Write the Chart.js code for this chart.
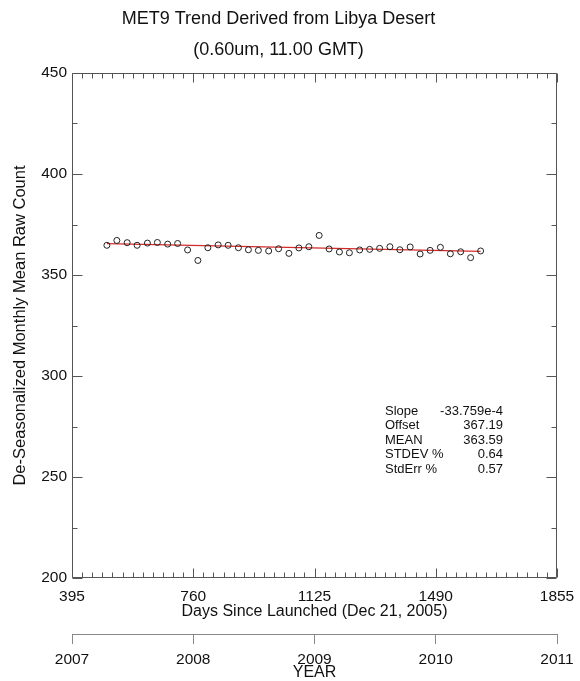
<!DOCTYPE html>
<html><head><meta charset="utf-8">
<script src="https://cdn.jsdelivr.net/npm/chart.js@4"></script>
<style>html,body{margin:0;padding:0;background:#fff}</style>
</head><body>
<canvas id="c" width="580" height="681"></canvas>
<script>
const days = [500, 530, 561, 591, 622, 652, 683, 713, 743, 774, 804, 835, 865, 896, 926, 956, 987, 1017, 1048, 1078, 1108, 1139, 1169, 1200, 1230, 1261, 1291, 1321, 1352, 1382, 1413, 1443, 1473, 1504, 1534, 1565, 1595, 1625];
const counts = [364.7, 367.1, 366.0, 364.7, 365.8, 366.1, 365.3, 365.6, 362.4, 357.2, 363.5, 364.9, 364.7, 363.5, 362.5, 362.2, 361.9, 363.0, 360.7, 363.4, 364.0, 369.6, 362.9, 361.4, 361.0, 362.4, 362.7, 363.2, 364.0, 362.5, 363.9, 360.4, 362.2, 363.7, 360.5, 361.5, 358.6, 361.9];
const trendDays = [500, 1625];
const trendCounts = [365.5, 361.7];
const dayTicks = [395, 760, 1125, 1490, 1855];
const yearLabels = ['2007', '2008', '2009', '2010', '2011'];
const yTicks = [200, 250, 300, 350, 400, 450];
const statNames = ['Slope', 'Offset', 'MEAN', 'STDEV %', 'StdErr %'];
const statValues = ['-33.759e-4', '367.19', '363.59', '0.64', '0.57'];

const FONT = '"Liberation Sans", Arial, Helvetica, sans-serif';
const AXIS = '#555';
const TXT = '#111';

// minor (monthly) ticks between each major day tick, minor y ticks halfway
const xTickVals = [];
for (let i = 0; i < dayTicks.length - 1; i++) {
  for (let k = 0; k < 12; k++) xTickVals.push(dayTicks[i] + (dayTicks[i + 1] - dayTicks[i]) * k / 12);
}
xTickVals.push(dayTicks[dayTicks.length - 1]);
const yTickVals = [];
for (let i = 0; i < yTicks.length - 1; i++) { yTickVals.push(yTicks[i], (yTicks[i] + yTicks[i + 1]) / 2); }
yTickVals.push(yTicks[yTicks.length - 1]);

function noPad(s) { s.paddingLeft = 0; s.paddingRight = 0; s.paddingTop = 0; s.paddingBottom = 0; }

const framePlugin = {
  id: 'frame',
  beforeDatasetsDraw(chart) {
    const {ctx, chartArea: a, scales: {x, y}} = chart;
    ctx.save();
    ctx.strokeStyle = AXIS; ctx.lineWidth = 1;
    const L = Math.round(a.left) + 0.5, R = Math.round(a.right) - 0.5;
    const T = Math.round(a.top) + 0.5, B = Math.round(a.bottom) - 0.5;
    ctx.beginPath();
    ctx.rect(L, T, R - L, B - T);
    x.ticks.forEach((t, i) => {
      const px = Math.round(x.getPixelForValue(t.value)) + 0.5;
      const len = i % 12 === 0 ? 9 : 5;
      ctx.moveTo(px, B); ctx.lineTo(px, B - len);
      ctx.moveTo(px, T); ctx.lineTo(px, T + len);
    });
    y.ticks.forEach(t => {
      const py = Math.round(y.getPixelForValue(t.value)) + 0.5;
      const len = t.value % 50 === 0 ? 10 : 5;
      ctx.moveTo(L, py); ctx.lineTo(L + len, py);
      ctx.moveTo(R, py); ctx.lineTo(R - len, py);
    });
    ctx.stroke();
    ctx.restore();
  },
  afterDraw(chart) {
    const {ctx} = chart;
    ctx.save();
    ctx.fillStyle = TXT;
    ctx.font = '13px ' + FONT;
    ctx.textBaseline = 'middle';
    const ys = [411, 425.5, 440, 454.5, 469];
    statNames.forEach((n, i) => {
      ctx.textAlign = 'left'; ctx.fillText(n, 385, ys[i]);
      ctx.textAlign = 'right'; ctx.fillText(statValues[i], 503, ys[i]);
    });
    ctx.restore();
  }
};

new Chart(document.getElementById('c'), {
  type: 'scatter',
  data: {
    datasets: [
      {
        type: 'scatter',
        data: days.map((d, i) => ({x: d, y: counts[i]})),
        pointStyle: 'circle', pointRadius: 3, pointBorderWidth: 1,
        borderColor: '#222', backgroundColor: 'rgba(0,0,0,0)', order: 1
      },
      {
        type: 'line',
        data: trendDays.map((d, i) => ({x: d, y: trendCounts[i]})),
        borderColor: '#d42a2a', borderWidth: 1.2, pointRadius: 0, fill: false, order: 2
      }
    ]
  },
  options: {
    responsive: false, animation: false,
    layout: {padding: {left: 0, right: 23, top: 0, bottom: 0}},
    plugins: {
      legend: {display: false}, tooltip: {enabled: false},
      title: {
        display: true,
        text: ['MET9 Trend Derived from Libya Desert', '(0.60um, 11.00 GMT)'],
        color: TXT,
        font: {family: FONT, size: 18, weight: 'normal', lineHeight: 31 / 18},
        padding: {top: 3.5, bottom: 7.5}
      }
    },
    scales: {
      x: {
        type: 'linear', position: 'bottom', weight: 1,
        min: dayTicks[0], max: dayTicks[dayTicks.length - 1],
        afterBuildTicks: s => { s.ticks = xTickVals.map(v => ({value: v})); },
        afterFit: s => { s.height = 56; noPad(s); },
        grid: {display: false, drawTicks: false}, border: {display: false},
        ticks: {
          autoSkip: false, maxRotation: 0, padding: 9, color: TXT,
          font: {family: FONT, size: 15.5},
          callback: (v, i) => i % 12 === 0 ? String(dayTicks[i / 12]) : ''
        },
        title: {display: true, text: 'Days Since Launched (Dec 21, 2005)', color: TXT,
          font: {family: FONT, size: 16}, padding: {top: 0, bottom: 13}}
      },
      x3: {
        type: 'linear', position: 'bottom', weight: 2,
        min: dayTicks[0], max: dayTicks[dayTicks.length - 1],
        afterBuildTicks: s => { s.ticks = dayTicks.map(v => ({value: v})); },
        afterFit: s => { s.height = 47; noPad(s); },
        grid: {display: true, drawOnChartArea: false, drawTicks: true, tickLength: 10, color: '#888', lineWidth: 1},
        border: {display: true, color: '#888', width: 1},
        ticks: {
          autoSkip: false, maxRotation: 0, padding: 6, color: TXT,
          font: {family: FONT, size: 15.5},
          callback: (v, i) => yearLabels[i]
        },
        title: {display: true, text: 'YEAR', color: TXT,
          font: {family: FONT, size: 16}, padding: {top: 0, bottom: -1.5}}
      },
      y: {
        type: 'linear', position: 'left',
        min: yTicks[0], max: yTicks[yTicks.length - 1],
        afterBuildTicks: s => { s.ticks = yTickVals.map(v => ({value: v})); },
        afterFit: s => { s.width = 72; noPad(s); },
        grid: {display: false, drawTicks: false}, border: {display: false},
        ticks: {
          autoSkip: false, padding: 5, color: TXT,
          font: {family: FONT, size: 15.5},
          callback: v => v % 50 === 0 ? String(v) : ''
        },
        title: {display: true, text: 'De-Seasonalized Monthly Mean Raw Count', color: TXT,
          font: {family: FONT, size: 16.5}, padding: {top: 11, bottom: 0}}
      }
    }
  },
  plugins: [framePlugin]
});
</script>
</body></html>
